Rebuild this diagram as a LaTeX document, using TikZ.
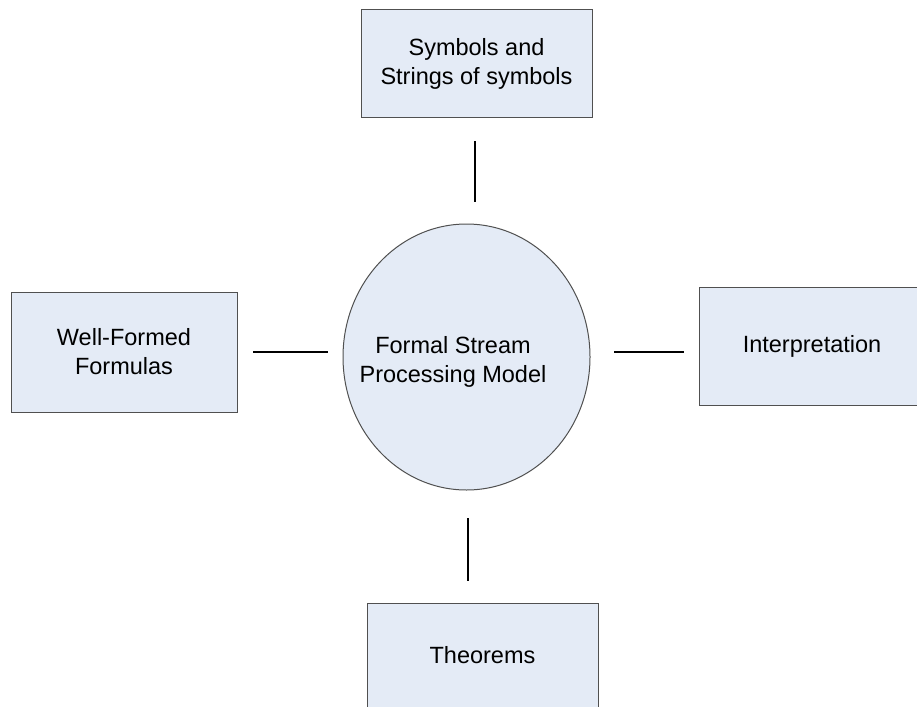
\documentclass[tikz,border=0pt]{standalone}
\usepackage{fontspec}
\setmainfont{Liberation Sans}
\usetikzlibrary{shapes.geometric}
\definecolor{boxfill}{HTML}{E4EBF6}
\definecolor{boxedge}{HTML}{505050}
\begin{document}
\begin{tikzpicture}[x=1pt,y=-1pt,
  lbl/.style={font=\fontsize{23.5}{29}\selectfont, align=center, text=black},
  topic/.style={draw=boxedge, fill=boxfill, line width=1pt, rectangle, inner sep=0pt},
  hub/.style={draw=boxedge, fill=boxfill, line width=1pt, ellipse, inner sep=0pt,
              minimum width=247pt, minimum height=266pt},
  link/.style={line width=2pt, black}]
  \useasboundingbox (0,0) rectangle (917,706);
  \clip (0,0) rectangle (917,706);

  % surrounding concept boxes
  \node[topic, minimum width=231pt, minimum height=107pt] (sym) at (476.5,63.5) {};
  \node[topic, minimum width=226pt, minimum height=120pt] (wff) at (124,352) {};
  \node[topic, minimum width=226pt, minimum height=118pt] (interp) at (812,346) {};
  \node[topic, minimum width=231pt, minimum height=104pt] (thm) at (482.5,655) {};

  % central model
  \node[hub] (model) at (466.5,357) {};

  % labels
  \node[lbl] (symtxt) at (sym.center) {Symbols and\\Strings of symbols};
  \node[lbl] (wfftxt) at (wff.center) {Well-Formed\\Formulas};
  \node[lbl] (interptxt) at (interp.center) {Interpretation};
  \node[lbl] (thmtxt) at (thm.center) {Theorems};
  \node[lbl] (modeltxt) at (453,362) {Formal Stream\\Processing Model};

  % free-standing connector stubs
  \coordinate (symA) at (474.5,141);
  \coordinate (symB) at (474.5,202);
  \coordinate (wffA) at (253,351.5);
  \coordinate (wffB) at (328,351.5);
  \coordinate (intA) at (614,351.5);
  \coordinate (intB) at (684,351.5);
  \coordinate (thmA) at (468,518);
  \coordinate (thmB) at (468,581);

  \draw[link] (symA) -- (symB);
  \draw[link] (wffA) -- (wffB);
  \draw[link] (intA) -- (intB);
  \draw[link] (thmA) -- (thmB);
\end{tikzpicture}
\end{document}
